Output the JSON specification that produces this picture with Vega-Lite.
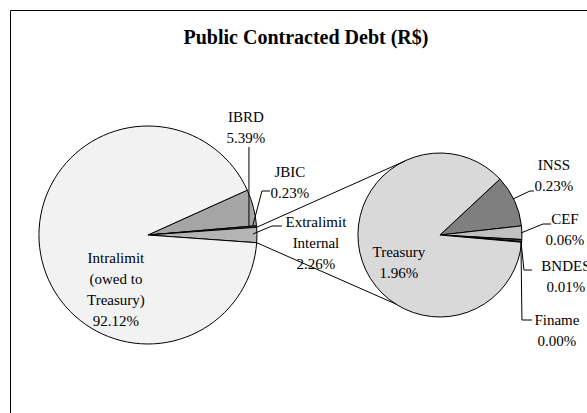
{
  "$schema": "https://vega.github.io/schema/vega-lite/v6.json",
  "width": 577,
  "height": 403,
  "autosize": {"type": "none"},
  "padding": {"left": 10, "top": 10, "right": 0, "bottom": 0},
  "background": "white",
  "title": {"text": "Public Contracted Debt (R$)", "font": "Liberation Serif", "fontSize": 20, "fontWeight": "bold", "color": "#000000", "anchor": "middle", "offset": -38, "dx": 7.5},
  "datasets": {
    "debt": [
      {"pie": "Main", "name": "IBRD", "value": 5.39, "ord": 1, "label": "IBRD\n5.39%"},
      {"pie": "Main", "name": "JBIC", "value": 0.23, "ord": 2, "label": "JBIC\n0.23%"},
      {"pie": "Main", "name": "Extralimit Internal", "value": 2.26, "ord": 3, "label": "Extralimit\nInternal\n2.26%"},
      {"pie": "Main", "name": "Intralimit (owed to Treasury)", "value": 92.12, "ord": 4, "label": "Intralimit\n(owed to\nTreasury)\n92.12%"},
      {"pie": "Sub", "name": "INSS", "value": 0.23, "ord": 1, "label": "INSS\n0.23%"},
      {"pie": "Sub", "name": "CEF", "value": 0.06, "ord": 2, "label": "CEF\n0.06%"},
      {"pie": "Sub", "name": "BNDES", "value": 0.01, "ord": 3, "label": "BNDES\n0.01%"},
      {"pie": "Sub", "name": "Finame", "value": 0.002, "ord": 4, "label": "Finame\n0.00%"},
      {"pie": "Sub", "name": "Treasury", "value": 1.96, "ord": 5, "label": "Treasury\n1.96%"}
    ]
  },
  "data": {"name": "debt"},
  "layer": [
    {
      "transform": [{"filter": "datum.pie == 'Main'"}],
      "mark": {"type": "arc", "outerRadius": 109, "stroke": "#000000", "strokeWidth": 1, "yOffset": 23.5},
      "encoding": {
        "x": {"field": "pie", "type": "nominal", "scale": {"type": "point", "domain": ["Main", "Sub"], "padding": 0.488, "align": 0.484}, "axis": {"orient": "top", "title": null}},
        "y": {"datum": 0, "type": "quantitative", "scale": {"domain": [-1, 1]}, "axis": {"title": null}},
        "theta": {"field": "value", "type": "quantitative", "stack": true, "scale": {"range": [1.14668, 7.42987]}},
        "order": {"field": "ord", "type": "quantitative"},
        "color": {"field": "name", "type": "nominal", "legend": null,
          "scale": {"domain": ["Intralimit (owed to Treasury)", "IBRD", "JBIC", "Extralimit Internal", "Treasury", "INSS", "CEF", "BNDES", "Finame"],
                    "range": ["#f2f2f2", "#a5a5a5", "#595959", "#b4b4b4", "#d9d9d9", "#7f7f7f", "#c0c0c0", "#404040", "#262626"]}}
      }
    },
    {
      "transform": [{"filter": "datum.pie == 'Sub'"}],
      "mark": {"type": "arc", "outerRadius": 82, "stroke": "#000000", "strokeWidth": 1, "yOffset": 23.5},
      "encoding": {
        "x": {"field": "pie", "type": "nominal", "axis": {"orient": "top", "title": null}},
        "y": {"datum": 0, "type": "quantitative", "axis": {"title": null}},
        "theta": {"field": "value", "type": "quantitative", "stack": true, "scale": {"range": [0.8203, 7.10349]}},
        "order": {"field": "ord", "type": "quantitative"},
        "color": {"field": "name", "type": "nominal", "legend": null}
      }
    },
    {
      "transform": [{"filter": "datum.name == 'Extralimit Internal'"}],
      "mark": {"type": "rule", "color": "#000000", "strokeWidth": 1, "xOffset": 108.7, "yOffset": 15.8, "x2Offset": -35, "y2Offset": -50.5},
      "encoding": {
        "x": {"field": "pie", "type": "nominal", "axis": {"orient": "top", "title": null}},
        "x2": {"datum": "Sub"},
        "y": {"datum": 0, "type": "quantitative", "axis": {"title": null}},
        "y2": {"datum": 0}
      }
    },
    {
      "transform": [{"filter": "datum.name == 'Extralimit Internal'"}],
      "mark": {"type": "rule", "color": "#000000", "strokeWidth": 1, "xOffset": 108.7, "yOffset": 31.2, "x2Offset": -43, "y2Offset": 93},
      "encoding": {
        "x": {"field": "pie", "type": "nominal", "axis": {"orient": "top", "title": null}},
        "x2": {"datum": "Sub"},
        "y": {"datum": 0, "type": "quantitative", "axis": {"title": null}},
        "y2": {"datum": 0}
      }
    },
    {"transform": [{"filter": "datum.name == 'IBRD'"}],
     "mark": {"type": "rule", "color": "#000000", "strokeWidth": 1, "xOffset": 101, "x2Offset": 101, "yOffset": -64.5, "y2Offset": 14.5},
     "encoding": {"x": {"field": "pie", "type": "nominal", "axis": {"orient": "top", "title": null}}, "x2": {"field": "pie"}, "y": {"datum": 0, "type": "quantitative", "axis": {"title": null}}, "y2": {"datum": 0}}},
    {"transform": [{"filter": "datum.name == 'JBIC'"}],
     "mark": {"type": "rule", "color": "#000000", "strokeWidth": 1, "xOffset": 105, "x2Offset": 114, "yOffset": 13.5, "y2Offset": -20.5},
     "encoding": {"x": {"field": "pie", "type": "nominal", "axis": {"orient": "top", "title": null}}, "x2": {"field": "pie"}, "y": {"datum": 0, "type": "quantitative", "axis": {"title": null}}, "y2": {"datum": 0}}},
    {"transform": [{"filter": "datum.name == 'JBIC'"}],
     "mark": {"type": "rule", "color": "#000000", "strokeWidth": 1, "xOffset": 114, "x2Offset": 122, "yOffset": -20.5, "y2Offset": -20.5},
     "encoding": {"x": {"field": "pie", "type": "nominal", "axis": {"orient": "top", "title": null}}, "x2": {"field": "pie"}, "y": {"datum": 0, "type": "quantitative", "axis": {"title": null}}, "y2": {"datum": 0}}},
    {"transform": [{"filter": "datum.name == 'Extralimit Internal'"}],
     "mark": {"type": "rule", "color": "#000000", "strokeWidth": 1, "xOffset": 105, "x2Offset": 124, "yOffset": 22.5, "y2Offset": 14.5},
     "encoding": {"x": {"field": "pie", "type": "nominal", "axis": {"orient": "top", "title": null}}, "x2": {"field": "pie"}, "y": {"datum": 0, "type": "quantitative", "axis": {"title": null}}, "y2": {"datum": 0}}},
    {"transform": [{"filter": "datum.name == 'Extralimit Internal'"}],
     "mark": {"type": "rule", "color": "#000000", "strokeWidth": 1, "xOffset": 124, "x2Offset": 134, "yOffset": 14.5, "y2Offset": 14.5},
     "encoding": {"x": {"field": "pie", "type": "nominal", "axis": {"orient": "top", "title": null}}, "x2": {"field": "pie"}, "y": {"datum": 0, "type": "quantitative", "axis": {"title": null}}, "y2": {"datum": 0}}},
    {"transform": [{"filter": "datum.name == 'INSS'"}],
     "mark": {"type": "rule", "color": "#000000", "strokeWidth": 1, "xOffset": 73, "x2Offset": 90, "yOffset": -12.5, "y2Offset": -20.5},
     "encoding": {"x": {"field": "pie", "type": "nominal", "axis": {"orient": "top", "title": null}}, "x2": {"field": "pie"}, "y": {"datum": 0, "type": "quantitative", "axis": {"title": null}}, "y2": {"datum": 0}}},
    {"transform": [{"filter": "datum.name == 'INSS'"}],
     "mark": {"type": "rule", "color": "#000000", "strokeWidth": 1, "xOffset": 90, "x2Offset": 94, "yOffset": -20.5, "y2Offset": -20.5},
     "encoding": {"x": {"field": "pie", "type": "nominal", "axis": {"orient": "top", "title": null}}, "x2": {"field": "pie"}, "y": {"datum": 0, "type": "quantitative", "axis": {"title": null}}, "y2": {"datum": 0}}},
    {"transform": [{"filter": "datum.name == 'CEF'"}],
     "mark": {"type": "rule", "color": "#000000", "strokeWidth": 1, "xOffset": 81, "x2Offset": 103, "yOffset": 21.5, "y2Offset": 12.5},
     "encoding": {"x": {"field": "pie", "type": "nominal", "axis": {"orient": "top", "title": null}}, "x2": {"field": "pie"}, "y": {"datum": 0, "type": "quantitative", "axis": {"title": null}}, "y2": {"datum": 0}}},
    {"transform": [{"filter": "datum.name == 'CEF'"}],
     "mark": {"type": "rule", "color": "#000000", "strokeWidth": 1, "xOffset": 103, "x2Offset": 111, "yOffset": 12.5, "y2Offset": 12.5},
     "encoding": {"x": {"field": "pie", "type": "nominal", "axis": {"orient": "top", "title": null}}, "x2": {"field": "pie"}, "y": {"datum": 0, "type": "quantitative", "axis": {"title": null}}, "y2": {"datum": 0}}},
    {"transform": [{"filter": "datum.name == 'BNDES'"}],
     "mark": {"type": "rule", "color": "#000000", "strokeWidth": 1, "xOffset": 81, "x2Offset": 84, "yOffset": 29.5, "y2Offset": 58.5},
     "encoding": {"x": {"field": "pie", "type": "nominal", "axis": {"orient": "top", "title": null}}, "x2": {"field": "pie"}, "y": {"datum": 0, "type": "quantitative", "axis": {"title": null}}, "y2": {"datum": 0}}},
    {"transform": [{"filter": "datum.name == 'BNDES'"}],
     "mark": {"type": "rule", "color": "#000000", "strokeWidth": 1, "xOffset": 84, "x2Offset": 92, "yOffset": 58.5, "y2Offset": 58.5},
     "encoding": {"x": {"field": "pie", "type": "nominal", "axis": {"orient": "top", "title": null}}, "x2": {"field": "pie"}, "y": {"datum": 0, "type": "quantitative", "axis": {"title": null}}, "y2": {"datum": 0}}},
    {"transform": [{"filter": "datum.name == 'Finame'"}],
     "mark": {"type": "rule", "color": "#000000", "strokeWidth": 1, "xOffset": 81, "x2Offset": 82, "yOffset": 30, "y2Offset": 108.5},
     "encoding": {"x": {"field": "pie", "type": "nominal", "axis": {"orient": "top", "title": null}}, "x2": {"field": "pie"}, "y": {"datum": 0, "type": "quantitative", "axis": {"title": null}}, "y2": {"datum": 0}}},
    {"transform": [{"filter": "datum.name == 'Finame'"}],
     "mark": {"type": "rule", "color": "#000000", "strokeWidth": 1, "xOffset": 82, "x2Offset": 92, "yOffset": 108.5, "y2Offset": 108.5},
     "encoding": {"x": {"field": "pie", "type": "nominal", "axis": {"orient": "top", "title": null}}, "x2": {"field": "pie"}, "y": {"datum": 0, "type": "quantitative", "axis": {"title": null}}, "y2": {"datum": 0}}},
    {"transform": [{"filter": "datum.name == 'IBRD'"}],
     "mark": {"type": "text", "font": "Liberation Serif", "fontSize": 15, "lineHeight": 21, "lineBreak": "\n", "align": "center", "baseline": "middle", "color": "#000000", "dx": 98, "dy": -94.5},
     "encoding": {"x": {"field": "pie", "type": "nominal", "axis": {"orient": "top", "title": null}}, "y": {"datum": 0, "type": "quantitative", "axis": {"title": null}}, "text": {"field": "label"}}},
    {"transform": [{"filter": "datum.name == 'JBIC'"}],
     "mark": {"type": "text", "font": "Liberation Serif", "fontSize": 15, "lineHeight": 21, "lineBreak": "\n", "align": "center", "baseline": "middle", "color": "#000000", "dx": 142, "dy": -39.5},
     "encoding": {"x": {"field": "pie", "type": "nominal", "axis": {"orient": "top", "title": null}}, "y": {"datum": 0, "type": "quantitative", "axis": {"title": null}}, "text": {"field": "label"}}},
    {"transform": [{"filter": "datum.name == 'Extralimit Internal'"}],
     "mark": {"type": "text", "font": "Liberation Serif", "fontSize": 15, "lineHeight": 21, "lineBreak": "\n", "align": "center", "baseline": "middle", "color": "#000000", "dx": 168, "dy": 10.5},
     "encoding": {"x": {"field": "pie", "type": "nominal", "axis": {"orient": "top", "title": null}}, "y": {"datum": 0, "type": "quantitative", "axis": {"title": null}}, "text": {"field": "label"}}},
    {"transform": [{"filter": "datum.name == 'Intralimit (owed to Treasury)'"}],
     "mark": {"type": "text", "font": "Liberation Serif", "fontSize": 15, "lineHeight": 21, "lineBreak": "\n", "align": "center", "baseline": "middle", "color": "#000000", "dx": -32, "dy": 46.5},
     "encoding": {"x": {"field": "pie", "type": "nominal", "axis": {"orient": "top", "title": null}}, "y": {"datum": 0, "type": "quantitative", "axis": {"title": null}}, "text": {"field": "label"}}},
    {"transform": [{"filter": "datum.name == 'Treasury'"}],
     "mark": {"type": "text", "font": "Liberation Serif", "fontSize": 15, "lineHeight": 21, "lineBreak": "\n", "align": "center", "baseline": "middle", "color": "#000000", "dx": -41, "dy": 40.5},
     "encoding": {"x": {"field": "pie", "type": "nominal", "axis": {"orient": "top", "title": null}}, "y": {"datum": 0, "type": "quantitative", "axis": {"title": null}}, "text": {"field": "label"}}},
    {"transform": [{"filter": "datum.name == 'INSS'"}],
     "mark": {"type": "text", "font": "Liberation Serif", "fontSize": 15, "lineHeight": 21, "lineBreak": "\n", "align": "center", "baseline": "middle", "color": "#000000", "dx": 114, "dy": -46.5},
     "encoding": {"x": {"field": "pie", "type": "nominal", "axis": {"orient": "top", "title": null}}, "y": {"datum": 0, "type": "quantitative", "axis": {"title": null}}, "text": {"field": "label"}}},
    {"transform": [{"filter": "datum.name == 'CEF'"}],
     "mark": {"type": "text", "font": "Liberation Serif", "fontSize": 15, "lineHeight": 21, "lineBreak": "\n", "align": "center", "baseline": "middle", "color": "#000000", "dx": 125, "dy": 7.5},
     "encoding": {"x": {"field": "pie", "type": "nominal", "axis": {"orient": "top", "title": null}}, "y": {"datum": 0, "type": "quantitative", "axis": {"title": null}}, "text": {"field": "label"}}},
    {"transform": [{"filter": "datum.name == 'BNDES'"}],
     "mark": {"type": "text", "font": "Liberation Serif", "fontSize": 15, "lineHeight": 21, "lineBreak": "\n", "align": "center", "baseline": "middle", "color": "#000000", "dx": 126, "dy": 54.5},
     "encoding": {"x": {"field": "pie", "type": "nominal", "axis": {"orient": "top", "title": null}}, "y": {"datum": 0, "type": "quantitative", "axis": {"title": null}}, "text": {"field": "label"}}},
    {"transform": [{"filter": "datum.name == 'Finame'"}],
     "mark": {"type": "text", "font": "Liberation Serif", "fontSize": 15, "lineHeight": 21, "lineBreak": "\n", "align": "center", "baseline": "middle", "color": "#000000", "dx": 117, "dy": 108.5},
     "encoding": {"x": {"field": "pie", "type": "nominal", "axis": {"orient": "top", "title": null}}, "y": {"datum": 0, "type": "quantitative", "axis": {"title": null}}, "text": {"field": "label"}}}
  ],
  "resolve": {"scale": {"theta": "independent"}},
  "config": {
    "view": {"stroke": null},
    "axis": {"domain": true, "domainColor": "#000000", "domainWidth": 1, "ticks": false, "labels": false, "grid": false, "title": null}
  }
}
